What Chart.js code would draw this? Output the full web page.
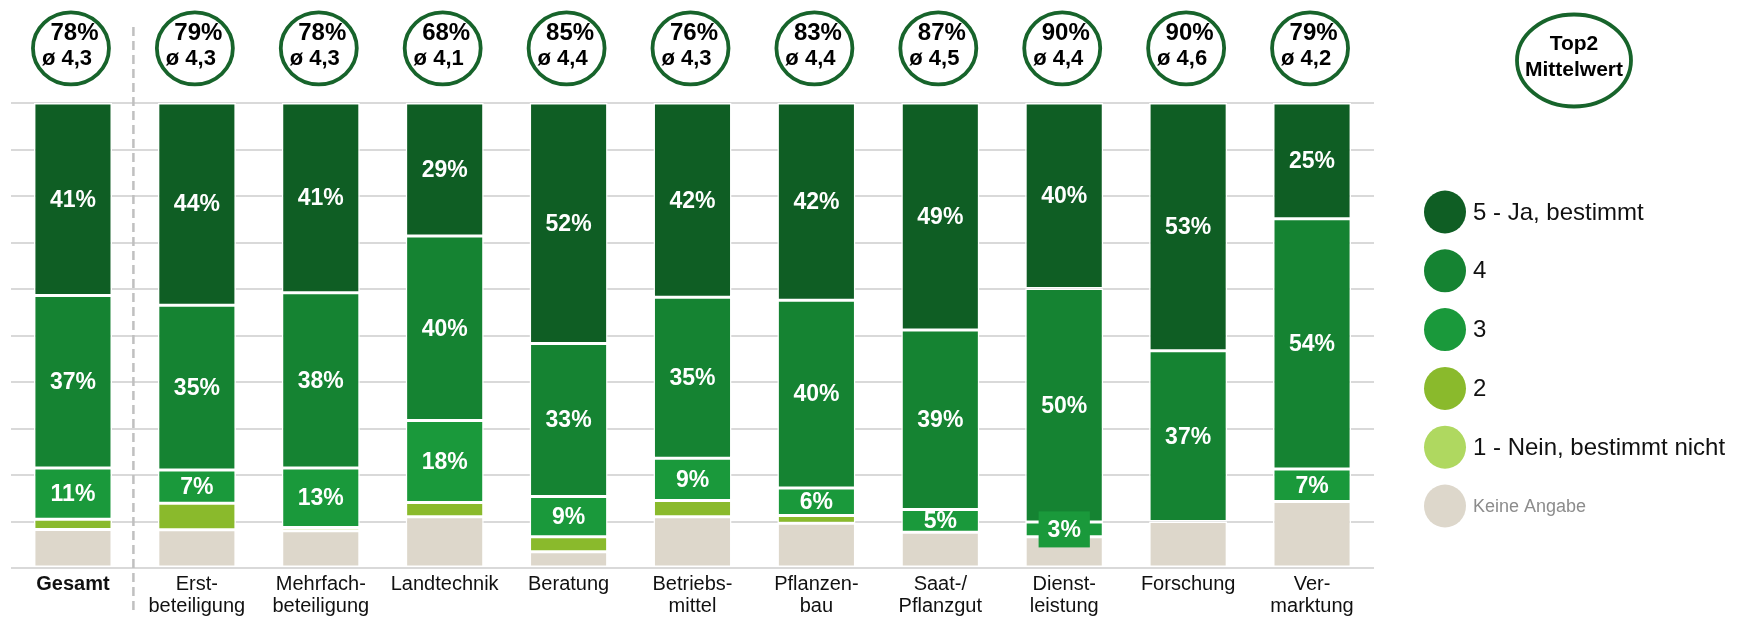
<!DOCTYPE html>
<html lang="de">
<head>
<meta charset="utf-8">
<title>Top2 / Mittelwert</title>
<script src="https://cdn.jsdelivr.net/npm/chart.js@4.4.1/dist/chart.umd.min.js"></script>
<style>
  body { margin: 0; background: #fff; }
  .chart-box { position: relative; width: 1741px; height: 619px; }
</style>
</head>
<body>
<div class="chart-box"><canvas id="chart"></canvas></div>
<script>
const kategorien = ['Gesamt', ['Erst-', 'beteiligung'], ['Mehrfach-', 'beteiligung'], 'Landtechnik', 'Beratung',
  ['Betriebs-', 'mittel'], ['Pflanzen-', 'bau'], ['Saat-/', 'Pflanzgut'], ['Dienst-', 'leistung'], 'Forschung', ['Ver-', 'marktung']];

// Anteile in %, von oben (5) nach unten (Keine Angabe)
const jaBestimmt = [41.4, 43.5, 40.8, 28.6, 51.7, 41.8, 42.4, 48.8, 39.9, 53.3, 24.9];
const wert4 = [37.1, 35.4, 37.7, 39.7, 32.9, 34.6, 40.4, 38.6, 50.2, 36.7, 53.8];
const wert3 = [11.0, 7.2, 12.8, 17.6, 8.7, 9.1, 5.9, 4.9, 3.2, 0, 7.0];
const wert2 = [2.2, 5.7, 0, 3.1, 3.2, 3.5, 1.7, 0, 0, 0, 0];
const neinBestimmt = [0, 0, 0.7, 0, 0, 0, 0, 0, 0, 0, 0];
const keineAngabe = [8.3, 8.2, 8.0, 11.0, 3.5, 11.0, 9.6, 7.7, 6.7, 10.0, 14.3];

const top2 = [78, 79, 78, 68, 85, 76, 83, 87, 90, 90, 79];
const mittelwert = [4.3, 4.3, 4.3, 4.1, 4.4, 4.3, 4.4, 4.5, 4.4, 4.6, 4.2];

const SCHRIFT = '"Liberation Sans", Arial, sans-serif';
const KREIS_GRUEN = '#17642b';

Chart.defaults.font.family = SCHRIFT;

const datasets = [
  { label: 'Keine Angabe', data: keineAngabe, backgroundColor: '#ddd7cb' },
  { label: '1 - Nein, bestimmt nicht', data: neinBestimmt, backgroundColor: '#afd860' },
  { label: '2', data: wert2, backgroundColor: '#8aba2c' },
  { label: '3', data: wert3, backgroundColor: '#1a993b', zeigeWert: true },
  { label: '4', data: wert4, backgroundColor: '#158332', zeigeWert: true },
  { label: '5 - Ja, bestimmt', data: jaBestimmt, backgroundColor: '#0f5e24', zeigeWert: true }
].map(ds => ({ ...ds, borderColor: '#ffffff', borderWidth: 1.5, borderSkipped: false, barPercentage: 0.63, categoryPercentage: 1 }));

const wertePlugin = {
  id: 'werte',
  afterDatasetsDraw(chart) {
    const ctx = chart.ctx;
    ctx.save();
    ctx.font = 'bold 23px ' + SCHRIFT;
    ctx.textAlign = 'center';
    ctx.textBaseline = 'middle';
    chart.data.datasets.forEach((ds, i) => {
      if (!ds.zeigeWert) return;
      chart.getDatasetMeta(i).data.forEach((bar, j) => {
        const v = ds.data[j];
        if (!v) return;
        const text = Math.round(v) + '%';
        const y = (bar.y + bar.base) / 2;
        if (v < 4) {
          const w = ctx.measureText(text).width + 18;
          ctx.fillStyle = ds.backgroundColor;
          ctx.fillRect(bar.x - w / 2, y - 18, w, 36);
        }
        ctx.fillStyle = '#ffffff';
        ctx.fillText(text, bar.x, y + 1);
      });
    });
    ctx.restore();
  }
};

const kreisPlugin = {
  id: 'kreise',
  afterDraw(chart) {
    const ctx = chart.ctx;
    const x = chart.scales.x;
    ctx.save();

    // gestrichelte Trennlinie nach "Gesamt"
    const trennX = (x.getPixelForValue(0) + x.getPixelForValue(1)) / 2 - 1.5;
    ctx.strokeStyle = '#c0c0c0';
    ctx.lineWidth = 2.5;
    ctx.setLineDash([9, 5]);
    ctx.beginPath();
    ctx.moveTo(trennX, 27);
    ctx.lineTo(trennX, 612);
    ctx.stroke();
    ctx.setLineDash([]);

    // Top2 / Mittelwert Kreise
    ctx.textAlign = 'center';
    ctx.textBaseline = 'alphabetic';
    top2.forEach((t, i) => {
      const cx = x.getPixelForValue(i) - 2;
      ctx.strokeStyle = KREIS_GRUEN;
      ctx.lineWidth = 3.8;
      ctx.fillStyle = '#ffffff';
      ctx.beginPath();
      ctx.ellipse(cx, 48.3, 38, 36, 0, 0, Math.PI * 2);
      ctx.fill();
      ctx.stroke();
      ctx.fillStyle = '#000000';
      ctx.font = 'bold 24px ' + SCHRIFT;
      ctx.fillText(t + '%', cx + 3.5, 39.5);
      ctx.font = 'bold 22px ' + SCHRIFT;
      ctx.fillText('ø ' + mittelwert[i].toFixed(1).replace('.', ','), cx - 4, 65);
    });

    // Erklärung rechts oben
    ctx.strokeStyle = KREIS_GRUEN;
    ctx.lineWidth = 3.8;
    ctx.beginPath();
    ctx.ellipse(1574, 60.5, 57, 46, 0, 0, Math.PI * 2);
    ctx.stroke();
    ctx.fillStyle = '#000000';
    ctx.font = 'bold 21px ' + SCHRIFT;
    ctx.fillText('Top2', 1574, 50);
    ctx.fillText('Mittelwert', 1574, 76);

    // Legende
    ctx.textAlign = 'left';
    ctx.textBaseline = 'middle';
    const legende = chart.data.datasets.slice().reverse();
    legende.forEach((ds, k) => {
      const y = 212 + k * 58.8;
      ctx.fillStyle = ds.backgroundColor;
      ctx.beginPath();
      ctx.ellipse(1445, y, 21, 21.5, 0, 0, Math.PI * 2);
      ctx.fill();
      const keine = ds.label === 'Keine Angabe';
      ctx.fillStyle = keine ? '#8c8c8c' : '#111111';
      ctx.font = (keine ? '18px ' : '24px ') + SCHRIFT;
      ctx.fillText(ds.label, 1473, y + 1);
    });
    ctx.restore();
  }
};

new Chart(document.getElementById('chart'), {
  type: 'bar',
  data: { labels: kategorien, datasets },
  options: {
    responsive: true,
    maintainAspectRatio: false,
    animation: false,
    layout: { padding: { top: 103, left: 11, right: 367, bottom: 0 } },
    plugins: { legend: { display: false }, tooltip: { enabled: false } },
    scales: {
      x: {
        stacked: true,
        grid: { display: false },
        border: { display: false },
        ticks: {
          autoSkip: false,
          maxRotation: 0,
          padding: -3,
          color: '#111111',
          font: (c) => ({ size: 20, weight: c.index === 0 ? 'bold' : 'normal', lineHeight: 1.12 })
        },
        afterFit: (s) => { s.height = 51; }
      },
      y: {
        stacked: true,
        min: 0,
        max: 100,
        ticks: { display: false, stepSize: 10 },
        grid: { color: '#d9d9d9', lineWidth: 2, drawTicks: false },
        border: { display: false },
        afterFit: (s) => { s.width = 0; }
      }
    }
  },
  plugins: [wertePlugin, kreisPlugin]
});
</script>
</body>
</html>
